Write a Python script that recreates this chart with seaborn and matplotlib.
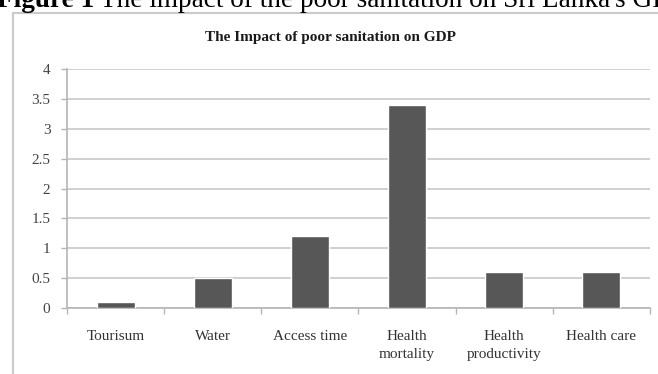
import matplotlib
matplotlib.use("Agg")
import matplotlib.pyplot as plt
import seaborn as sns
import pandas as pd
from matplotlib.patches import Rectangle
from matplotlib.ticker import FixedLocator

categories = ["Tourisum", "Water", "Access time", "Health\nmortality", "Health\nproductivity", "Health care"]
values = [0.1, 0.5, 1.2, 3.4, 0.6, 0.6]
yticks = [0, 0.5, 1, 1.5, 2, 2.5, 3, 3.5, 4]
ytick_labels = ["0", "0.5", "1", "1.5", "2", "2.5", "3", "3.5", "4"]
caption_bold = "Figure 1"
caption_rest = "The impact of the poor sanitation on Sri Lanka's GDP"
chart_title = "The Impact of poor sanitation on GDP"

sns.set_theme(style="white")
plt.rcParams['font.family'] = ['Liberation Serif', 'DejaVu Serif']

df = pd.DataFrame({"cat": categories, "val": values})

W, H = 658, 374
fig = plt.figure(figsize=(W / 100, H / 100), dpi=100)
fig.patch.set_facecolor("white")

# chart frame (only top & left visible)
fig.patches.append(Rectangle((13 / W, -0.2), 1.2, 1.2 - 12.5 / H, transform=fig.transFigure,
                             fill=False, edgecolor="#cacaca", linewidth=1.5, zorder=0))

# cut-off caption
base_y = 1 - 7 / H
t1 = fig.text(-3 / W, base_y, caption_bold, fontsize=19.6, fontweight="bold", va="baseline",
              ha="left", color="black")
fig.canvas.draw()
r = fig.canvas.get_renderer()
bb = t1.get_window_extent(renderer=r)
fig.text((bb.x1 + 6) / W, base_y, caption_rest, fontsize=19.6, va="baseline", ha="left",
         color="black")

ax = fig.add_axes([67 / W, 1 - 308 / H, (650 - 67) / W, (308 - 69) / H])
sns.barplot(data=df, x="cat", y="val", color="#575757", width=0.39, saturation=1, ax=ax, zorder=3)

ax.set_ylim(0, 4)
ax.set_xlim(-0.5, 5.5)
ax.set_yticks(yticks)
ax.set_yticklabels(ytick_labels)
ax.yaxis.grid(True, color="#c8c8c8", linewidth=1.2, zorder=0)
ax.set_axisbelow(True)
ax.set_xlabel("")
ax.set_ylabel("")

for s in ["top", "right"]:
    ax.spines[s].set_visible(False)
for s in ["left", "bottom"]:
    ax.spines[s].set_color("#b5b5b5")
    ax.spines[s].set_linewidth(1.2)

ax.tick_params(axis="y", which="major", left=True, length=4, width=1, color="#b5b5b5",
               labelsize=11, labelcolor="#444444", pad=8)
ax.tick_params(axis="x", which="major", bottom=False, labelsize=11, labelcolor="#333333", pad=10)
ax.xaxis.set_minor_locator(FixedLocator([-0.5, 0.5, 1.5, 2.5, 3.5, 4.5, 5.5]))
ax.tick_params(axis="x", which="minor", bottom=True, length=4, width=1, color="#b5b5b5")
for lbl in ax.get_xticklabels():
    lbl.set_linespacing(1.45)

fig.text(330 / W, 1 - 38 / H, chart_title, fontsize=11, fontweight="bold",
         ha="center", va="center", color="#1a1a1a")

fig.savefig("out.png", dpi=100)
